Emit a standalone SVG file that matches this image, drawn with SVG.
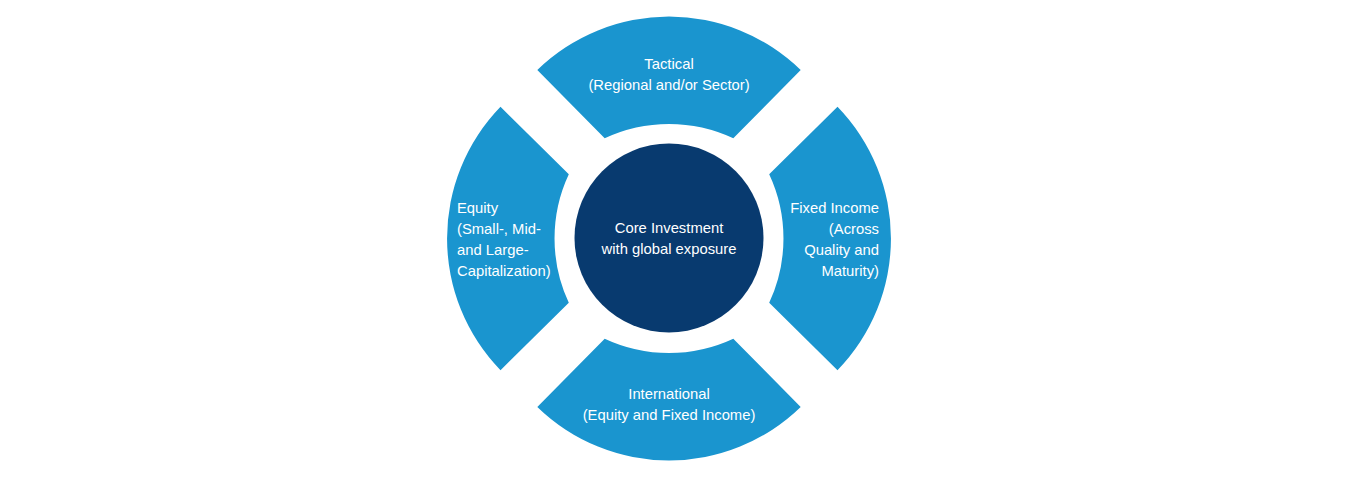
<svg xmlns="http://www.w3.org/2000/svg" width="1364" height="478" viewBox="0 0 1364 478">
  <style>
    .seg { fill: #1a95cf; }
    .core { fill: #083a6f; }
    .t { font-family: "Liberation Sans", Arial, sans-serif; font-size: 14.8px; fill: #ffffff; }
    .c { text-anchor: middle; }
    .s { text-anchor: start; }
    .e { text-anchor: end; }
  </style>
  <rect width="1364" height="478" fill="#ffffff"/>
  <g id="connectors"/>
  <g id="tactical">
    <path class="seg" d="M 537.3 70 A 189 189 0 0 1 800.7 70 L 733.3 138.3 A 152 152 0 0 0 604.7 138.3 Z"/>
    <text class="t c" x="669" y="69">Tactical</text>
    <text class="t c" x="669" y="90">(Regional and/or Sector)</text>
  </g>
  <g id="fixed-income">
    <path class="seg" d="M 837.5 106.8 A 189 189 0 0 1 837.5 370.2 L 769.2 302.8 A 152 152 0 0 0 769.2 174.2 Z"/>
    <text class="t e" x="879" y="213">Fixed Income</text>
    <text class="t e" x="879" y="234">(Across</text>
    <text class="t e" x="879" y="255">Quality and</text>
    <text class="t e" x="879" y="276">Maturity)</text>
  </g>
  <g id="international">
    <path class="seg" d="M 800.7 407 A 189 189 0 0 1 537.3 407 L 604.7 338.7 A 152 152 0 0 0 733.3 338.7 Z"/>
    <text class="t c" x="669" y="399">International</text>
    <text class="t c" x="669" y="420">(Equity and Fixed Income)</text>
  </g>
  <g id="equity">
    <path class="seg" d="M 500.5 370.2 A 189 189 0 0 1 500.5 106.8 L 568.8 174.2 A 152 152 0 0 0 568.8 302.8 Z"/>
    <text class="t s" x="457" y="213">Equity</text>
    <text class="t s" x="457" y="234">(Small-, Mid-</text>
    <text class="t s" x="457" y="255">and Large-</text>
    <text class="t s" x="457" y="276">Capitalization)</text>
  </g>
  <g id="core">
    <circle class="core" cx="669" cy="238" r="94.5"/>
    <text class="t c" x="669" y="233">Core Investment</text>
    <text class="t c" x="669" y="254">with global exposure</text>
  </g>
</svg>
